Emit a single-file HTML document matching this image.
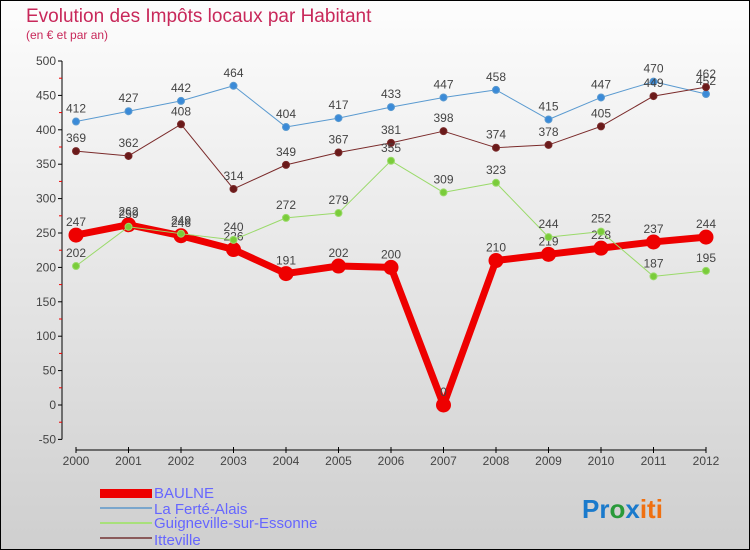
<!DOCTYPE html>
<html><head><meta charset="utf-8"><style>
body{margin:0}
#c{width:750px;height:550px;position:relative;box-sizing:border-box;border:1px solid #000;background:linear-gradient(#fdfdfd,#cfcfcf);font-family:"Liberation Sans",sans-serif;overflow:hidden}
</style></head><body>
<div id="c">
<svg id="s" width="750" height="550" style="position:absolute;left:-1px;top:-1px">
<text x="26" y="22" font-size="19" fill="#c8285a">Evolution des Impôts locaux par Habitant</text>
<text x="26" y="39" font-size="12" fill="#c8285a">(en € et par an)</text>
<g id="ax"></g><g id="ser"></g>
<g font-size="15" fill="#6666ff">
<rect x="100" y="489" width="52" height="9" fill="#e00"/>
<text x="154" y="498">BAULNE</text>
<rect x="100" y="507" width="52" height="2" fill="#7aa6cc"/>
<text x="154" y="514">La Ferté-Alais</text>
<rect x="100" y="522" width="52" height="2" fill="#a8e07a"/>
<text x="154" y="528">Guigneville-sur-Essonne</text>
<rect x="100" y="537" width="52" height="2" fill="#8a5a5a"/>
<text x="154" y="545">Itteville</text>
</g>
<text x="582" y="518" font-size="26" font-weight="bold"><tspan fill="#1a7acc">Pr</tspan><tspan fill="#2a9a3a">o</tspan><tspan fill="#1a7acc">x</tspan><tspan fill="#f07010">iti</tspan></text>
</svg></div>
<script>
const years=["2000","2001","2002","2003","2004","2005","2006","2007","2008","2009","2010","2011","2012"];
const yTicks=[-50,0,50,100,150,200,250,300,350,400,450,500];
const baulne=[247,262,246,226,191,202,200,0,210,219,228,237,244];
const ferte=[412,427,442,464,404,417,433,447,458,415,447,470,452];
const guign=[202,259,249,240,272,279,355,309,323,244,252,187,195];
const itteville=[369,362,408,314,349,367,381,398,374,378,405,449,462];
const NS="http://www.w3.org/2000/svg";
const X=i=>76+i*52.5, Y=v=>405-v*0.688;
function mk(t,a,p){const e=document.createElementNS(NS,t);for(const k in a)e.setAttribute(k,a[k]);p.appendChild(e);return e;}
const ax=document.getElementById('ax'),ser=document.getElementById('ser');
let l=mk('line',{x1:62,y1:Y(500),x2:62,y2:Y(-50),stroke:'#000'},ax);

yTicks.forEach(v=>{mk('line',{x1:58,x2:62,y1:Y(v),y2:Y(v),stroke:'#000'},ax);
 if(v<500)mk('line',{x1:59,x2:62,y1:Y(v+25),y2:Y(v+25),stroke:'#e00'},ax);
 const t=mk('text',{x:56,y:Y(v)+4,'text-anchor':'end','font-size':12,fill:'#444'},ax);t.textContent=v;
 });
l=mk('line',{x1:76,y1:450,x2:706,y2:450,stroke:'#000'},ax);

years.forEach((y,i)=>{mk('line',{x1:X(i),x2:X(i),y1:447,y2:453,stroke:'#000'},ax);
 const t=mk('text',{x:X(i),y:465,'text-anchor':'middle','font-size':12,fill:'#444'},ax);t.textContent=y;
 });
function series(d,name,col,fill,w,r){const g=mk('g',{},ser);
 
 mk('polyline',{points:d.map((v,i)=>X(i)+','+Y(v)).join(' '),fill:'none',stroke:col,'stroke-width':w,'stroke-linejoin':'round'},g);
 d.forEach((v,i)=>{const c=mk('circle',{cx:X(i),cy:Y(v),r:r,fill:fill,stroke:col,'stroke-width':1},g);
  
  const t=mk('text',{x:X(i),y:Y(v)-9,'text-anchor':'middle','font-size':12,fill:'#444'},g);t.textContent=v;
  });}
series(ferte,'ferte','#5a9ad0','#3a8ad8',1,3.5);
series(itteville,'itteville','#7a2a2a','#6a1a1a',1,3.5);
series(baulne,'baulne','#e00','#e00',7,7);
series(guign,'guigneville','#9ada6a','#7acc3a',1,3.5);
</script>
</body></html>
